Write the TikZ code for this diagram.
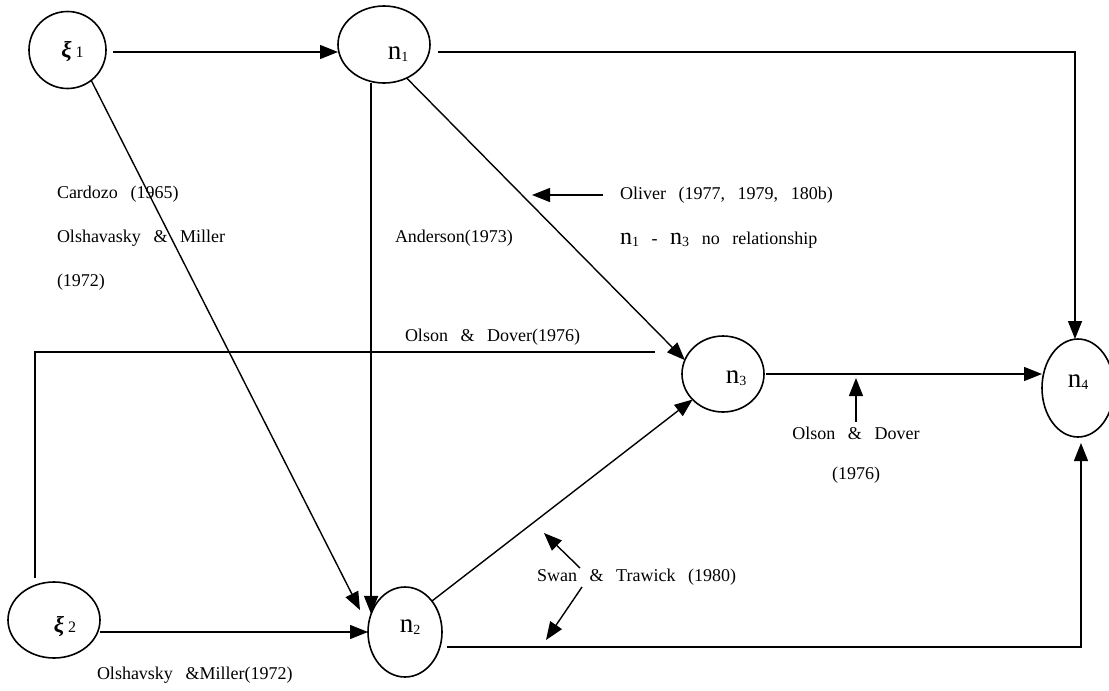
\documentclass[tikz,border=0pt]{standalone}
\usepackage{fontspec}
\setmainfont{Liberation Serif}
\usetikzlibrary{arrows.meta,shapes.geometric,calc}
\newcommand\sgap{\hspace{0.7em}}
\newcommand\nlab[2][27]{{\fontsize{#1}{#1}\selectfont n}\raisebox{-2pt}{\fontsize{14}{14}\selectfont #2}}
\newcommand\xil[1]{{\fontsize{23}{23}\selectfont\bfseries\itshape ξ}\hspace{4pt}{\fontsize{16}{16}\selectfont #1}}
\begin{document}
\begin{tikzpicture}[x=1pt,y=-1pt,
  every node/.style={inner sep=0pt, outer sep=0pt},
  var/.style={draw, ellipse, line width=1.6pt},
  lab/.style={font=\fontsize{18}{18}\selectfont, anchor=west},
  clab/.style={font=\fontsize{18}{18}\selectfont},
  con/.style={line width=1.4pt},
  arr/.style={con, -{Triangle[length=18pt,width=14pt]}}]
\useasboundingbox (0,0) rectangle (1109,691);
\fill[white] (0,0) rectangle (1109,691);

% variables
\node[var, minimum width=77pt, minimum height=77pt,
  label={[xshift=5pt,yshift=-2pt]center:\xil{1}}] (xi1) at (67.5,50) {};
\node[var, minimum width=92pt, minimum height=76pt,
  label={[xshift=11pt,yshift=-7pt]center:\xil{2}}] (xi2) at (54,620) {};
\node[var, minimum width=92pt, minimum height=77pt,
  label={[xshift=14pt,yshift=-10pt]center:\nlab{1}}] (n1) at (384,44.5) {};
\node[var, minimum width=74pt, minimum height=90pt,
  label={[xshift=5pt,yshift=5pt]center:\nlab{2}}] (n2) at (405,632) {};
\node[var, minimum width=82pt, minimum height=76pt,
  label={[xshift=13pt,yshift=-4pt]center:\nlab{3}}] (n3) at (723,374) {};
\node[var, minimum width=72pt, minimum height=98pt,
  label={[xshift=0pt,yshift=6pt]center:\nlab{4}}] (n4) at (1078,388) {};

% texts
\node[lab] (t1) at (57,194) {Cardozo\sgap(1965)};
\node[lab] (t2) at (57,238) {Olshavasky\sgap\&\sgap Miller};
\node[lab] (t3) at (57,282) {(1972)};
\node[lab] (t4) at (395,238) {Anderson(1973)};
\node[lab] (t5) at (620,195) {Oliver\sgap(1977,\sgap1979,\sgap180b)};
\node[lab] (t6) at (620,240) {\nlab[24]{1}\sgap-\sgap\nlab[24]{3}\sgap no\sgap relationship};
\node[lab] (t7) at (405,337) {Olson\sgap\&\sgap Dover(1976)};
\node[clab] (t8) at (856,433) {Olson\sgap\&\sgap Dover};
\node[clab] (t9) at (856,475) {(1976)};
\node[lab] (t10) at (537,577) {Swan\sgap\&\sgap Trawick\sgap(1980)};
\node[lab] (t11) at (97,675) {Olshavsky\sgap\&Miller(1972)};

% free ends
\coordinate (olTail) at (603,195);
\coordinate (olTip) at (532,195);
\coordinate (odEnd) at (655,352);
\coordinate (swTailA) at (580,568);
\coordinate (swTipA) at (544,533);
\coordinate (swTailB) at (582,587);
\coordinate (swTipB) at (546,640);

% connectors
\draw[arr] ($(xi1.east)+(7,2)$) -- (n1.west |- 0,52);
\draw[arr] ($(n1.east)+(8,7.5)$) -| ($(n4.north)+(-3,0)$);
\draw[arr] (n2.152 |- n1.south) -- (n2.152);
\draw[arr] (xi1.-52) -- ($(n2.west)+(-8,-22)$);
\draw[arr] (n1.-56) -- (n3.160);
\draw[arr] (olTail) -- (olTip);
\draw[con] ($(xi2.north)+(-19,-4)$) |- (odEnd);
\draw[arr] ([xshift=2pt]n3.east) -- (n4.west |- n3.east);
\draw[arr] ([yshift=5pt]t8.north) -- (t8.north |- 0,378);
\draw[arr] (n2.49) -- (n3.220);
\draw[arr] (xi2.east |- n2.west) -- (n2.west);
\draw[arr] ($(n2.east)+(5,15)$) -| ($(n4.south)+(3,6)$);
\draw[arr] (swTailA) -- (swTipA);
\draw[arr] (swTailB) -- (swTipB);
\end{tikzpicture}
\end{document}
